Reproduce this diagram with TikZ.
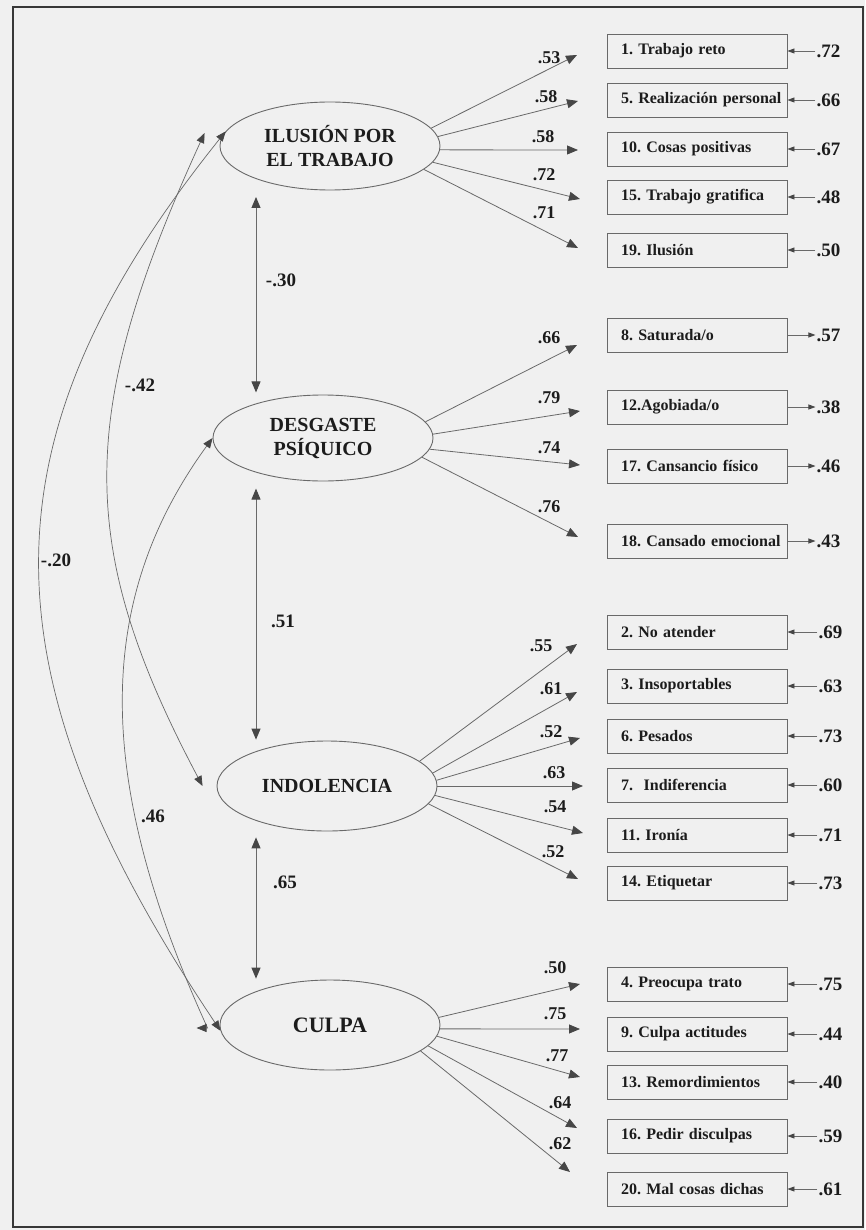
\documentclass[tikz,border=0pt]{standalone}
\usepackage{fontspec}
\setmainfont{Liberation Serif}
\usepackage{tikz}
\usetikzlibrary{positioning, arrows.meta, shapes.geometric}
\frenchspacing

\definecolor{bgcol}{RGB}{240,240,240}
\definecolor{linecol}{RGB}{105,105,105}
\definecolor{tipcol}{RGB}{70,70,70}
\definecolor{txtcol}{RGB}{28,28,28}
\definecolor{framecol}{RGB}{55,55,55}

\begin{document}
\begin{tikzpicture}[
    x=1pt, y=-1pt,
    latent/.style={ellipse, draw=linecol, line width=0.9pt, fill=bgcol, minimum width=220pt, inner sep=0pt, align=center, text=txtcol, font=\bfseries\fontsize{20}{24}\selectfont},
    item/.style={rectangle, draw=linecol, line width=0.9pt, fill=bgcol, minimum width=180pt, minimum height=34pt, text width=152pt, inner xsep=14pt, align=left, text=txtcol, font=\bfseries\fontsize{16}{18}\selectfont},
    coef/.style={text=txtcol, inner sep=1pt, font=\bfseries\fontsize{18}{20}\selectfont},
    errval/.style={text=txtcol, inner sep=1pt, font=\bfseries\fontsize{19}{21}\selectfont},
    corr/.style={text=txtcol, inner sep=1pt, font=\bfseries\fontsize{19}{21}\selectfont},
    load/.style={-{Triangle[length=11pt, width=9pt, color=tipcol]}, draw=linecol, line width=0.8pt},
    dbl/.style={{Triangle[length=11pt, width=9pt, color=tipcol]}-{Triangle[length=11pt, width=9pt, color=tipcol]}, draw=linecol, line width=0.9pt, shorten <=18pt, shorten >=13pt},
    cov/.style={{Triangle[length=10pt, width=8pt, color=tipcol]}-{Triangle[length=10pt, width=8pt, color=tipcol]}, draw=linecol, line width=0.7pt},
    err/.style={-{Triangle[length=7pt, width=5pt, color=tipcol]}, draw=linecol, line width=0.8pt},
    frame/.style={draw=framecol, line width=1.8pt}
]

\useasboundingbox (0,0) rectangle (865,1230);
\fill[bgcol] (0,0) rectangle (865,1230);
\draw[frame] (13,7) rectangle (863,1227);

% Factors
\node[latent, minimum height=88pt] (ilus) at (330,146) {ILUSIÓN POR\\EL TRABAJO};
\node[latent, minimum height=86pt] (desg) at (323,438) {DESGASTE\\PSÍQUICO};
\node[latent, minimum height=90pt] (indol) at (327,786) {INDOLENCIA};
\node[latent, minimum height=90pt, font=\bfseries\fontsize{22}{26}\selectfont] (culpa) at (330,1025) {CULPA};

% Items
\node[item] (b1) at (697,51) {1. Trabajo reto};
\node[item] (b5) at (697,100) {\mbox{5. Realización personal}};
\node[item] (b10) at (697,149) {10. Cosas positivas};
\node[item] (b15) at (697,197) {15. Trabajo gratifica};
\node[item] (b19) at (697,250) {19. Ilusión};

\node[item] (b8) at (697,335) {8. Saturada/o};
\node[item] (b12) at (697,407) {12.Agobiada/o};
\node[item] (b17) at (697,466) {17. Cansancio físico};
\node[item] (b18) at (697,541) {\mbox{18. Cansado emocional}};

\node[item] (b2) at (697,632) {2. No atender};
\node[item] (b3) at (697,686) {3. Insoportables};
\node[item] (b6) at (697,736) {6. Pesados};
\node[item] (b7) at (697,785) {7.\ \ Indiferencia};
\node[item] (b11) at (697,835) {11. Ironía};
\node[item] (b14) at (697,883) {14. Etiquetar};

\node[item] (b4) at (697,984) {4. Preocupa trato};
\node[item] (b9) at (697,1034) {9. Culpa actitudes};
\node[item] (b13) at (697,1082) {13. Remordimientos};
\node[item] (b16) at (697,1136) {16. Pedir disculpas};
\node[item] (b20) at (697,1189) {20. Mal cosas dichas};

% Error values
\node[errval, right=28pt of b1] (e1) {.72};
\node[errval, right=28pt of b5] (e5) {.66};
\node[errval, right=28pt of b10] (e10) {.67};
\node[errval, right=28pt of b15] (e15) {.48};
\node[errval, right=28pt of b19] (e19) {.50};
\node[errval, right=28pt of b8] (e8) {.57};
\node[errval, right=28pt of b12] (e12) {.38};
\node[errval, right=28pt of b17] (e17) {.46};
\node[errval, right=28pt of b18] (e18) {.43};
\node[errval, right=30pt of b2] (e2) {.69};
\node[errval, right=30pt of b3] (e3) {.63};
\node[errval, right=30pt of b6] (e6) {.73};
\node[errval, right=30pt of b7] (e7) {.60};
\node[errval, right=30pt of b11] (e11) {.71};
\node[errval, right=30pt of b14] (e14) {.73};
\node[errval, right=30pt of b4] (e4) {.75};
\node[errval, right=30pt of b9] (e9) {.44};
\node[errval, right=30pt of b13] (e13) {.40};
\node[errval, right=30pt of b16] (e16) {.59};
\node[errval, right=30pt of b20] (e20) {.61};

\draw[err] (e1) -- (b1);
\draw[err] (e5) -- (b5);
\draw[err] (e10) -- (b10);
\draw[err] (e15) -- (b15);
\draw[err] (e19) -- (b19);
\draw[err] (b8) -- (e8);
\draw[err] (b12) -- (e12);
\draw[err] (b17) -- (e17);
\draw[err] (b18) -- (e18);
\draw[err] (e2) -- (b2);
\draw[err] (e3) -- (b3);
\draw[err] (e6) -- (b6);
\draw[err] (e7) -- (b7);
\draw[err] (e11) -- (b11);
\draw[err] (e14) -- (b14);
\draw[err] (e4) -- (b4);
\draw[err] (e9) -- (b9);
\draw[err] (e13) -- (b13);
\draw[err] (e16) -- (b16);
\draw[err] (e20) -- (b20);

% Loadings (arrow ends)
\coordinate (t1) at (577,55);
\coordinate (t5) at (578,101);
\coordinate (t10) at (578,150);
\coordinate (t15) at (580,199);
\coordinate (t19) at (578,248);
\coordinate (t8) at (577,345);
\coordinate (t12) at (580,411);
\coordinate (t17) at (580,465);
\coordinate (t18) at (578,537);
\coordinate (t2) at (577,644);
\coordinate (t3) at (577,692);
\coordinate (t6) at (580,738);
\coordinate (t7) at (583,786);
\coordinate (t11) at (583,833);
\coordinate (t14) at (578,879);
\coordinate (t4) at (580,984);
\coordinate (t9) at (580,1029);
\coordinate (t13) at (580,1077);
\coordinate (t16) at (577,1128);
\coordinate (t20) at (570,1172);

\draw[load] (ilus.10) -- (t1);
\draw[load] (ilus.5) -- (t5);
\draw[load] (ilus.-2) -- (t10);
\draw[load] (ilus.-9) -- (t15);
\draw[load] (ilus.-14) -- (t19);
\draw[load] (desg.9) -- (t8);
\draw[load] (desg.2) -- (t12);
\draw[load] (desg.-6) -- (t17);
\draw[load] (desg.-11) -- (t18);
\draw[load] (indol.15) -- (t2);
\draw[load] (indol.7) -- (t3);
\draw[load] (indol.3) -- (t6);
\draw[load] (indol.0) -- (t7);
\draw[load] (indol.-5) -- (t11);
\draw[load] (indol.-10) -- (t14);
\draw[load] (culpa.4) -- (t4);
\draw[load] (culpa.-2) -- (t9);
\draw[load] (culpa.-6) -- (t13);
\draw[load] (culpa.-12) -- (t16);
\draw[load] (culpa.-16) -- (t20);

\node[coef] (l1) at (549,58) {.53};
\node[coef] (l5) at (546,97) {.58};
\node[coef] (l10) at (543,137) {.58};
\node[coef] (l15) at (544,175) {.72};
\node[coef] (l19) at (544,213) {.71};
\node[coef] (l8) at (549,338) {.66};
\node[coef] (l12) at (549,398) {.79};
\node[coef] (l17) at (549,448) {.74};
\node[coef] (l18) at (549,507) {.76};
\node[coef] (l2) at (541,646) {.55};
\node[coef] (l3) at (551,689) {.61};
\node[coef] (l6) at (551,732) {.52};
\node[coef] (l7) at (554,773) {.63};
\node[coef] (l11) at (555,807) {.54};
\node[coef] (l14) at (553,852) {.52};
\node[coef] (l4) at (555,968) {.50};
\node[coef] (l9) at (555,1014) {.75};
\node[coef] (l13) at (557,1056) {.77};
\node[coef] (l16) at (560,1103) {.64};
\node[coef] (l20) at (560,1144) {.62};

% Correlations
\coordinate (vx) at (256,0);
\draw[dbl] (vx |- ilus.204) -- (vx |- desg.156);
\draw[dbl] (vx |- desg.204) -- (vx |- indol.156);
\draw[dbl] (vx |- indol.204) -- (vx |- culpa.156);

\draw[cov] (ilus.172) .. controls (-21,439) and (-21,670) .. (culpa.183);
\draw[cov] ([xshift=-15pt, yshift=13pt]ilus.west) .. controls (76,414) and (76,547) .. ([xshift=-14pt]indol.west);
\draw[cov] (desg.west) .. controls (94,601) and (94,779) .. ([xshift=-12pt, yshift=-3pt]culpa.west) -- ([xshift=-23pt, yshift=-3pt]culpa.west);

\node[corr] (r1) at (281,280) {-.30};
\node[corr] (r2) at (283,621) {.51};
\node[corr] (r3) at (285,882) {.65};
\node[corr] (r4) at (140,385) {-.42};
\node[corr] (r5) at (56,560) {-.20};
\node[corr] (r6) at (153,816) {.46};

\end{tikzpicture}
\end{document}
